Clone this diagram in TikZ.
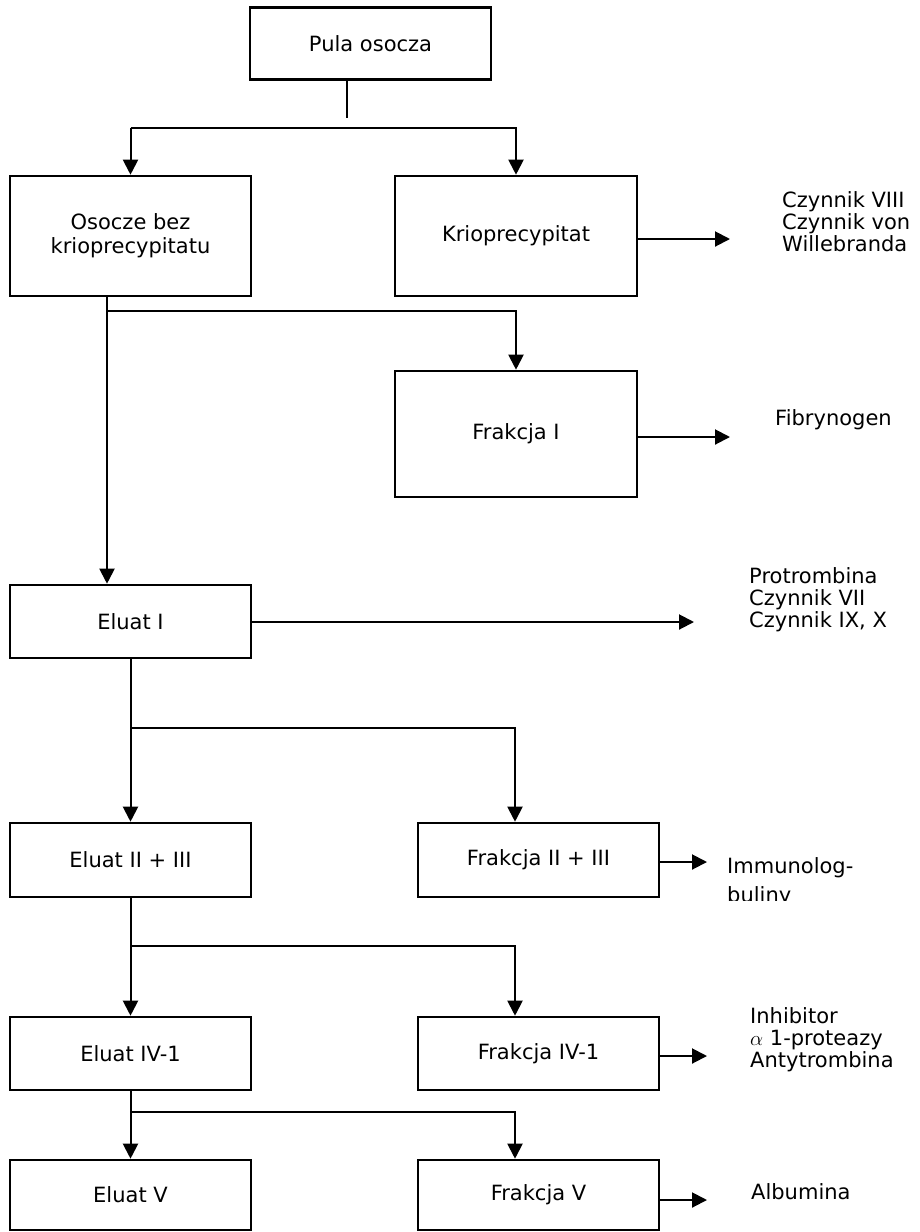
\documentclass[tikz,border=0pt]{standalone}
\usepackage{fontspec}
\setmainfont{DejaVu Sans}
\usetikzlibrary{arrows.meta}
\begin{document}
\begin{tikzpicture}[x=1pt,y=-1pt,
  box/.style={draw=black, line width=2.6pt, rectangle, inner sep=0pt, minimum width=241pt, align=center, font=\fontsize{21}{24}\selectfont},
  lbl/.style={anchor=west, inner sep=0pt, align=left, font=\fontsize{21}{22}\selectfont},
  con/.style={line width=2pt, draw=black},
  arr/.style={con, -{Triangle[length=15pt,width=15pt]}}]
\useasboundingbox (0,0) rectangle (920,1232);
\fill[white] (0,0) rectangle (920,1232);
% boxes
\node[box, minimum height=72pt] (pula) at (370.5,43.5) {Pula osocza};
\node[box, minimum height=120pt] (osocze) at (130.5,236) {Osocze bez\\kriopre­cypitatu};
\node[box, minimum height=120pt, minimum width=242pt] (kriop) at (516,236) {Krioprecypitat};
\node[box, minimum height=126pt, minimum width=242pt] (frak1) at (516,434) {Frakcja I};
\node[box, minimum height=73pt] (eluat1) at (130.5,621.5) {Eluat I};
\node[box, minimum height=74pt] (eluat23) at (130.5,860) {Eluat II + III};
\node[box, minimum height=74pt] (frak23) at (538.5,860) {Frakcja II + III};
\node[box, minimum height=73pt] (eluat41) at (130.5,1053.5) {Eluat IV-1};
\node[box, minimum height=73pt] (frak41) at (538.5,1053.5) {Frakcja IV-1};
\node[box, minimum height=70pt] (eluat5) at (130.5,1195) {Eluat V};
\node[box, minimum height=70pt] (frak5) at (538.5,1195) {Frakcja V};
% right labels
\node[lbl] (l1) at (782,222) {Czynnik VIII\\Czynnik von\\Willebranda};
\node[lbl] (l2) at (775,420) {Fibrynogen};
\node[lbl] (l3) at (749,600) {Protrombina\\Czynnik VII\\Czynnik IX, X};
\begin{scope}
\clip (700,830) rectangle (920,900);
\node[lbl, anchor=base west, font=\fontsize{21}{29}\selectfont] (l4) at (727,902) {Immunolog-\\buliny};
\end{scope}
\node[lbl] (l5) at (750,1040) {Inhibitor\\$\alpha$ 1-proteazy\\Antytrombina};
\node[lbl] (l6) at (751,1192) {Albumina};
% coordinates
\coordinate (c0) at (347,118);
\coordinate (h1) at (130.5,128);
\coordinate (v1) at (107,311);
\coordinate (h3) at (130.5,728);
\coordinate (h3r) at (515,728);
\coordinate (h4) at (130.5,946);
\coordinate (h4r) at (515,946);
\coordinate (h5) at (130.5,1112);
\coordinate (h5r) at (515,1112);
\coordinate (t1) at (730,239);
\coordinate (t2) at (730,437);
\coordinate (t3) at (694,622);
\coordinate (t4) at (707,862);
\coordinate (t5) at (707,1056);
\coordinate (t6) at (707,1200);
% connectors
\draw[con] (pula.south -| c0) -- (c0);
\draw[arr] (h1) -- (osocze.north);
\draw[arr] (h1) -| (kriop.north);
\draw[con] (osocze.south -| v1) -- (v1);
\draw[arr] (v1) -- (v1 |- eluat1.north);
\draw[arr] (v1) -| (frak1.north);
\draw[arr] (kriop.east |- t1) -- (t1);
\draw[arr] (frak1.east |- t2) -- (t2);
\draw[arr] (eluat1.east |- t3) -- (t3);
\draw[con] (eluat1.south) -- (h3);
\draw[arr] (h3) -- (eluat23.north);
\draw[arr] (h3) -- (h3r) -- (h3r |- frak23.north);
\draw[arr] (frak23.east |- t4) -- (t4);
\draw[con] (eluat23.south) -- (h4);
\draw[arr] (h4) -- (eluat41.north);
\draw[arr] (h4) -- (h4r) -- (h4r |- frak41.north);
\draw[arr] (frak41.east |- t5) -- (t5);
\draw[con] (eluat41.south) -- (h5);
\draw[arr] (h5) -- (eluat5.north);
\draw[arr] (h5) -- (h5r) -- (h5r |- frak5.north);
\draw[arr] (frak5.east |- t6) -- (t6);
\end{tikzpicture}
\end{document}
